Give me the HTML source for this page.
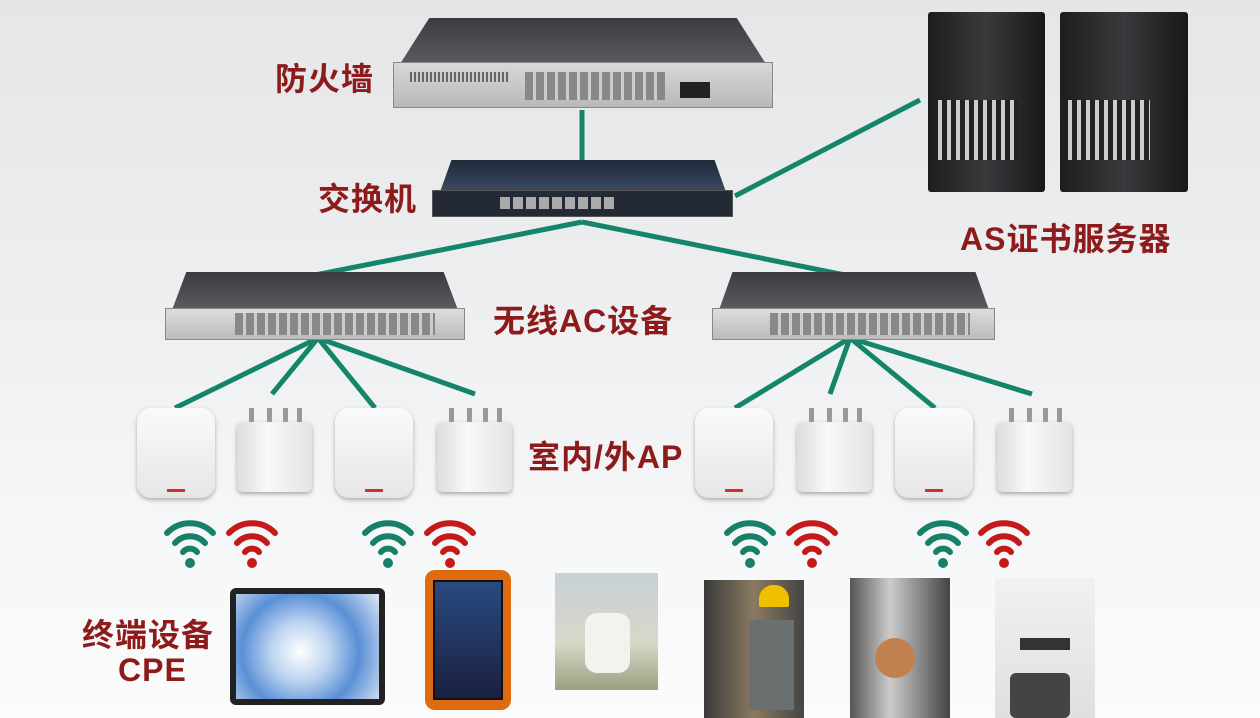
<!DOCTYPE html>
<html><head><meta charset="utf-8"><style>
*{margin:0;padding:0;box-sizing:border-box}
body{width:1260px;height:718px;overflow:hidden;position:relative;background:linear-gradient(#e4e6e8 0%,#eceef0 40%,#f6f7f8 75%,#fbfbfb 100%);font-family:"Liberation Sans","Noto Sans CJK SC",sans-serif}
.a{position:absolute}
.lbl{position:absolute;color:#8e1b1b;font-weight:bold;font-size:32px;white-space:nowrap;letter-spacing:1px}
.top{background:linear-gradient(#3a3c40,#5a5c60)}
.ports{background:repeating-linear-gradient(90deg,#888 0 8px,#ccc 8px 11px)}
.ap{position:absolute;width:78px;height:90px;border-radius:14px;background:linear-gradient(#fafafa,#e6e6e6);box-shadow:0 2px 4px #aaa}
.ap::after{content:"";position:absolute;left:30px;bottom:6px;width:18px;height:3px;background:#c33}
.oap{position:absolute;width:75px;height:70px;border-radius:6px;background:linear-gradient(90deg,#ddd,#f8f8f8 40%,#e4e4e4);box-shadow:0 2px 4px #aaa}
.ant{position:absolute;top:-14px;width:5px;height:14px;background:#999}
.srv{position:absolute;background:linear-gradient(90deg,#1d1d1f,#3a3a3d 50%,#18181a);border-radius:3px}
</style></head><body>
<svg class="a" style="left:0;top:0" width="1260" height="718">
<g stroke="#14856a" stroke-width="5" fill="none">
<line x1="582" y1="110" x2="582" y2="160"/>
<line x1="735" y1="196" x2="920" y2="100"/>
<line x1="582" y1="222" x2="315" y2="275"/>
<line x1="582" y1="222" x2="845" y2="275"/>
<line x1="318" y1="338" x2="175" y2="408"/>
<line x1="318" y1="338" x2="272" y2="394"/>
<line x1="318" y1="338" x2="375" y2="408"/>
<line x1="318" y1="338" x2="475" y2="394"/>
<line x1="850" y1="338" x2="735" y2="408"/>
<line x1="850" y1="338" x2="830" y2="394"/>
<line x1="850" y1="338" x2="935" y2="408"/>
<line x1="850" y1="338" x2="1032" y2="394"/>
</g>
</svg>
<div class="a top" style="left:400px;top:18px;width:366px;height:46px;clip-path:polygon(8% 0,92% 0,100% 100%,0 100%)"></div>
<div class="a" style="left:393px;top:62px;width:380px;height:46px;background:linear-gradient(#d8d8d8,#b8b8b8);border:1px solid #888"></div>
<div class="a ports" style="left:525px;top:72px;width:140px;height:28px"></div>
<div class="a" style="left:410px;top:72px;width:100px;height:10px;background:repeating-linear-gradient(90deg,#666 0 2px,#ccc 2px 4px)"></div>
<div class="a" style="left:680px;top:82px;width:30px;height:16px;background:#222"></div>
<div class="lbl" style="left:275px;top:54px">防火墙</div>
<div class="a" style="left:440px;top:160px;width:286px;height:32px;background:linear-gradient(#1e2a3c,#3c4a60);clip-path:polygon(4% 0,96% 0,100% 100%,0 100%)"></div>
<div class="a" style="left:432px;top:190px;width:301px;height:27px;background:#232a36;border:1px solid #555"></div>
<div class="a" style="left:500px;top:197px;width:115px;height:12px;background:repeating-linear-gradient(90deg,#aaa 0 10px,#232a36 10px 13px)"></div>
<div class="lbl" style="left:318px;top:174px">交换机</div>
<div class="srv" style="left:928px;top:12px;width:117px;height:180px"></div>
<div class="a" style="left:938px;top:100px;width:80px;height:60px;background:repeating-linear-gradient(90deg,#ccc 0 4px,#222 4px 9px)"></div>
<div class="srv" style="left:1060px;top:12px;width:128px;height:180px"></div>
<div class="a" style="left:1068px;top:100px;width:82px;height:60px;background:repeating-linear-gradient(90deg,#ccc 0 4px,#222 4px 9px)"></div>
<div class="lbl" style="left:960px;top:214px">AS证书服务器</div>
<div class="a top" style="left:172px;top:272px;width:286px;height:38px;clip-path:polygon(5% 0,95% 0,100% 100%,0 100%)"></div>
<div class="a" style="left:165px;top:308px;width:300px;height:32px;background:linear-gradient(#ddd,#bbb);border:1px solid #888"></div>
<div class="a ports" style="left:235px;top:313px;width:200px;height:22px"></div>
<div class="a top" style="left:719px;top:272px;width:270px;height:38px;clip-path:polygon(5% 0,95% 0,100% 100%,0 100%)"></div>
<div class="a" style="left:712px;top:308px;width:283px;height:32px;background:linear-gradient(#ddd,#bbb);border:1px solid #888"></div>
<div class="a ports" style="left:770px;top:313px;width:200px;height:22px"></div>
<div class="lbl" style="left:493px;top:296px">无线AC设备</div>
<div class="ap" style="left:137px;top:408px"></div>
<div class="oap" style="left:237px;top:422px"><i class="ant" style="left:12px"></i><i class="ant" style="left:30px"></i><i class="ant" style="left:46px"></i><i class="ant" style="left:60px"></i></div>
<div class="ap" style="left:335px;top:408px"></div>
<div class="oap" style="left:437px;top:422px"><i class="ant" style="left:12px"></i><i class="ant" style="left:30px"></i><i class="ant" style="left:46px"></i><i class="ant" style="left:60px"></i></div>
<div class="ap" style="left:695px;top:408px"></div>
<div class="oap" style="left:797px;top:422px"><i class="ant" style="left:12px"></i><i class="ant" style="left:30px"></i><i class="ant" style="left:46px"></i><i class="ant" style="left:60px"></i></div>
<div class="ap" style="left:895px;top:408px"></div>
<div class="oap" style="left:997px;top:422px"><i class="ant" style="left:12px"></i><i class="ant" style="left:30px"></i><i class="ant" style="left:46px"></i><i class="ant" style="left:60px"></i></div>
<div class="lbl" style="left:528px;top:432px">室内/外AP</div>
<svg class="a" style="left:0;top:0" width="1260" height="718">
<defs><g id="w" fill="none" stroke-width="6" stroke-linecap="round">
<path d="M-23,-20 A32,32 0 0 1 23,-20"/><path d="M-15,-10 A20,20 0 0 1 15,-10"/><path d="M-7,-1 A9,9 0 0 1 7,-1"/><circle cx="0" cy="10" r="5" stroke="none" fill="currentColor"/></g></defs>
<g color="#17806a" stroke="#17806a"><use href="#w" x="190" y="553"/><use href="#w" x="388" y="553"/><use href="#w" x="750" y="553"/><use href="#w" x="943" y="553"/></g>
<g color="#c41a1a" stroke="#c41a1a"><use href="#w" x="252" y="553"/><use href="#w" x="450" y="553"/><use href="#w" x="812" y="553"/><use href="#w" x="1004" y="553"/></g>
</svg>
<div class="a" style="left:230px;top:588px;width:155px;height:117px;background:#222;border-radius:6px;padding:6px"><div style="width:100%;height:100%;background:radial-gradient(circle at 45% 55%,#fff 0,#bcd4f0 30%,#5a8fd6 60%,#dfe8f5 100%)"></div></div>
<div class="a" style="left:425px;top:570px;width:86px;height:140px;background:#e06a10;border-radius:10px;padding:10px 8px"><div style="width:100%;height:100%;background:linear-gradient(#2a4a80,#1a2040);border:2px solid #111"></div></div>
<div class="a" style="left:555px;top:573px;width:103px;height:117px;background:linear-gradient(#c8d0d8,#d8d8c8 60%,#9aa080)"><div style="position:absolute;left:30px;top:40px;width:45px;height:60px;background:#f2f2ee;border-radius:12px"></div></div>
<div class="a" style="left:704px;top:580px;width:100px;height:138px;background:linear-gradient(90deg,#3a3a3a,#8a7a60 50%,#444)"><div style="position:absolute;left:55px;top:5px;width:30px;height:22px;background:#f0c000;border-radius:14px 14px 2px 2px"></div><div style="position:absolute;left:45px;top:40px;width:45px;height:90px;background:#6a7070"></div></div>
<div class="a" style="left:850px;top:578px;width:100px;height:140px;background:linear-gradient(90deg,#555,#ccc 40%,#888 70%,#444)"><div style="position:absolute;left:25px;top:60px;width:40px;height:40px;background:#c08050;border-radius:50%"></div></div>
<div class="a" style="left:995px;top:578px;width:100px;height:140px;background:linear-gradient(#f0f2f2,#dde0dc)"><div style="position:absolute;left:25px;top:60px;width:50px;height:12px;background:#333"></div><div style="position:absolute;left:15px;top:95px;width:60px;height:45px;background:#444;border-radius:6px"></div></div>
<div class="lbl" style="left:82px;top:610px">终端设备</div>
<div class="lbl" style="left:118px;top:652px">CPE</div>
</body></html>
